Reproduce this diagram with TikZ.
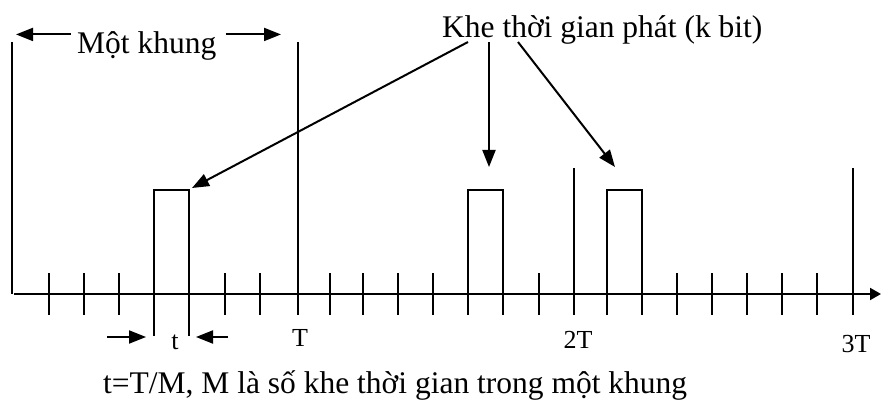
\documentclass[tikz,border=0pt]{standalone}
\usepackage{fontspec}
\setmainfont{Liberation Serif}
\usetikzlibrary{arrows.meta}
\begin{document}
\begin{tikzpicture}[x=1pt,y=-1pt,
  ln/.style={line width=2pt},
  arr/.style={line width=2pt,-{Triangle[length=17pt,width=13pt]}},
  big/.style={font=\fontsize{31.5}{36}\selectfont,inner sep=0pt,anchor=base west},
  lab/.style={font=\fontsize{26}{30}\selectfont,inner sep=0pt,anchor=base}]
\useasboundingbox (0,0) rectangle (881,401);
% axis
\coordinate (a0) at (14,294);
\coordinate (aend) at (881,294);
\draw[ln,-{Triangle[length=11pt,width=12pt]}] (a0) -- (aend);
% ticks
\foreach \x in {49,84,119,225,260,330,363,398,433,539,677,712,747,782,817}
  \draw[ln] (\x,273) -- (\x,315);
% frame lines
\draw[ln] (12,42) -- (12,294);
\draw[ln] (298,42) -- (298,315);
\draw[ln] (574,168) -- (574,315);
\draw[ln] (853,168) -- (853,315);
% pulses
\draw[ln] (154,336) -- (154,190) -- (189,190) -- (189,336);
\draw[ln] (468,315) -- (468,190) -- (503,190) -- (503,315);
\draw[ln] (607,315) -- (607,190) -- (642,190) -- (642,315);
% texts
\node[big] (mk) at (77,54) {Một khung};
\node[big] (khe) at (442,38) {Khe thời gian phát (k bit)};
\node[big] (note) at (103,393) {t=T/M, M là số khe thời gian trong một khung};
\node[lab] (t) at (175,349) {t};
\node[lab] (T) at (300,346) {T};
\node[lab] (T2) at (578,348) {2T};
\node[lab] (T3) at (856,352) {3T};
% Một khung arrows
\coordinate (mkl) at (16,42);
\coordinate (mkr) at (281,42);
\draw[arr] (mk.west) ++(-6,-12) coordinate (mkls) -- (mkl |- mkls);
\draw[arr] (mk.east) ++(9,-12) coordinate (mkrs) -- (mkr |- mkrs);
% t arrows
\coordinate (tl1) at (107,337);
\coordinate (tl2) at (146,337);
\coordinate (tr1) at (228,337);
\coordinate (tr2) at (196,337);
\draw[arr] (tl1) -- (tl2);
\draw[arr] (tr1) -- (tr2);
% Khe arrows
\coordinate (k1) at (468,42);
\coordinate (k2) at (489,42);
\coordinate (k3) at (518,42);
\coordinate (p1) at (192,188);
\coordinate (p2) at (489,167);
\coordinate (p3) at (615,167);
\draw[arr] (k1) -- (p1);
\draw[arr] (k2) -- (p2);
\draw[arr] (k3) -- (p3);
\end{tikzpicture}
\end{document}
